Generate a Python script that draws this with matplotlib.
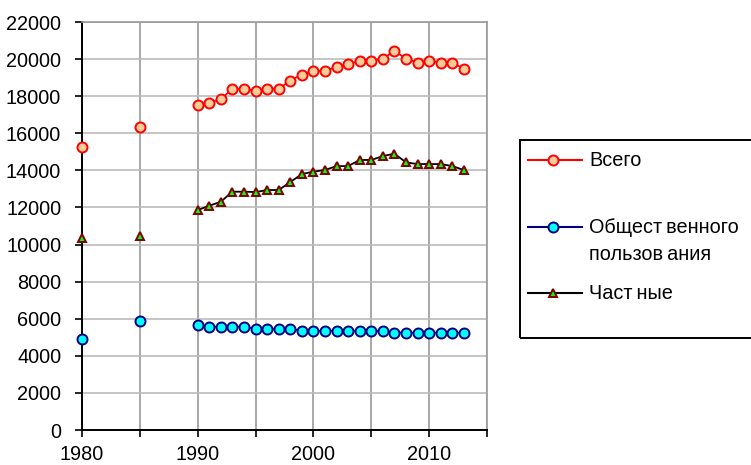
import numpy as np
import pandas as pd
import matplotlib
matplotlib.use("Agg")
import matplotlib.pyplot as plt
from matplotlib.lines import Line2D
from matplotlib.patches import Rectangle

plt.rcParams["font.family"] = ["Liberation Sans", "DejaVu Sans"]

# Годы наблюдений (1980 и 1985 — отдельные точки, далее ежегодно)
years = [1980, 1985] + list(range(1990, 2014))

total = [15280, 16350,
         17520, 17650, 17850, 18390, 18390, 18300, 18400, 18400, 18840, 19160,
         19370, 19350, 19590, 19720, 19920, 19920, 20020, 20450, 20020, 19810,
         19920, 19810, 19810, 19480]

public = [4920, 5900,
          5660, 5570, 5570, 5570, 5570, 5460, 5460, 5460, 5460, 5350,
          5350, 5350, 5350, 5350, 5350, 5350, 5350, 5250, 5250, 5250,
          5250, 5250, 5250, 5250]

private = [10330, 10460,
           11860, 12090, 12310, 12850, 12850, 12830, 12940, 12940, 13370, 13800,
           13930, 14020, 14230, 14230, 14560, 14560, 14770, 14900, 14430, 14340,
           14340, 14340, 14230, 14020]

labels = [["Всего"], ["Общест\u2009венного", "пользов\u2009ания"], ["Част\u2009ные"]]

full_range = range(1980, 2014)
FS = 14.3


def with_gaps(vals):
    # пропущенные годы -> NaN, чтобы линия разрывалась
    return pd.Series(vals, index=years).reindex(full_range)


W, H = 751, 465
fig = plt.figure(figsize=(W / 100, H / 100), dpi=100)
ax = fig.add_axes([82 / W, 1 - 430 / H, (487 - 82) / W, (430 - 22) / H])

styles = [
    dict(color="red", marker="o", mfc="#FFCC99", mec="red", ms=7.2, mew=1.4),
    dict(color="#000080", marker="o", mfc="#00FFFF", mec="#000080", ms=7.2, mew=1.4),
    dict(color="black", marker="^", mfc="#00FF00", mec="#800000", ms=6, mew=1.4),
]

for vals, st in zip([total, public, private], styles):
    s = with_gaps(vals)
    ax.plot(s.index, s.values, lw=1.3, clip_on=False, zorder=3, **st)

ax.set_xlim(1980, 2015)
ax.set_ylim(0, 22000)
ax.set_xticks(range(1980, 2016, 5))
ax.set_xticklabels(["1980", "", "1990", "", "2000", "", "2010", ""])
ax.set_yticks(range(0, 22001, 2000))
ax.tick_params(direction="out", length=5, width=1.2, labelsize=FS, colors="black")
ax.tick_params(axis="x", pad=6)
ax.tick_params(axis="y", pad=10)

ax.grid(axis="x", color="#999999", lw=1.2)
ax.grid(axis="y", color="#bbbbbb", lw=1.2)
ax.set_axisbelow(True)
for side in ["top", "right"]:
    ax.spines[side].set_color("#999999")
    ax.spines[side].set_linewidth(1.2)
for side in ["left", "bottom"]:
    ax.spines[side].set_color("black")
    ax.spines[side].set_linewidth(1.4)

# Легенда в рамке справа
fig.patches.append(Rectangle((520 / W, 1 - 338 / H), (760 - 520) / W, (338 - 140) / H,
                             transform=fig.transFigure, fill=False, ec="black", lw=1.4))
rows = [160, 227, 293]
for y, st, lines in zip(rows, styles, labels):
    yf = 1 - y / H
    fig.lines.append(Line2D([528 / W, 553 / W, 582 / W], [yf, yf, yf],
                            transform=fig.transFigure, lw=1.5, markevery=[1], **st))
    for i, txt in enumerate(lines):
        fig.text(589 / W, yf - i * 27 / H, txt, fontsize=FS, va="center", ha="left")

fig.savefig("out.png", dpi=100)
